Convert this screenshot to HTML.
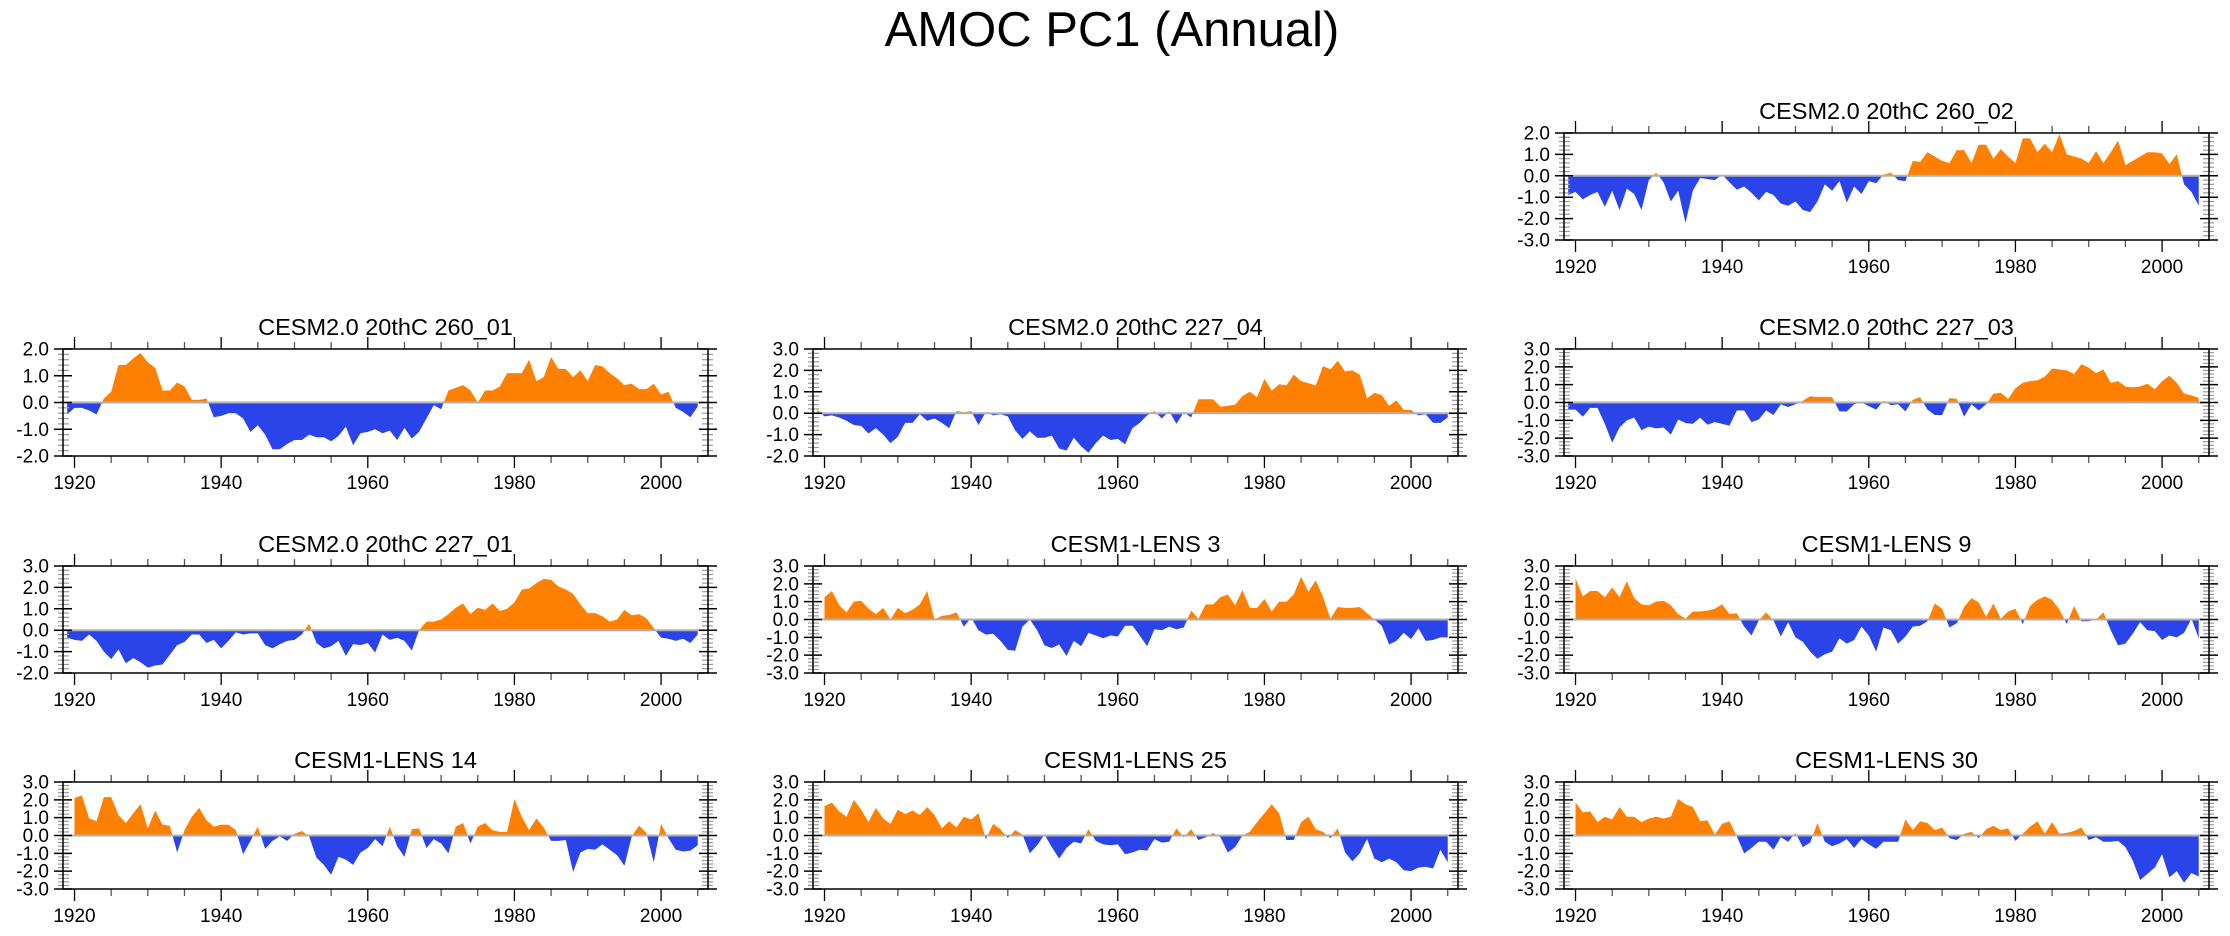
<!DOCTYPE html>
<html><head><meta charset="utf-8"><style>
html,body{margin:0;padding:0;background:#fff;}
svg{display:block;font-family:"Liberation Sans",Arial,sans-serif;}
</style></head><body>
<svg id="chart" width="2230" height="936" viewBox="0 0 2230 936">
<text x="1112" y="46" text-anchor="middle" font-size="49">AMOC PC1 (Annual)</text>
</svg>
<script>
// ---- data ----
const panelTitles = ["CESM2.0 20thC 260_02","CESM2.0 20thC 260_01","CESM2.0 20thC 227_04","CESM2.0 20thC 227_03","CESM2.0 20thC 227_01","CESM1-LENS 3","CESM1-LENS 9","CESM1-LENS 14","CESM1-LENS 25","CESM1-LENS 30"];
const startYears = [1919,1919,1919,1919,1919,1920,1920,1920,1920,1920];
const yMins = [-3,-2,-2,-3,-2,-3,-3,-3,-3,-3];
const yMaxs = [2,2,3,3,3,3,3,3,3,3];
const xTickLabels = [1920,1940,1960,1980,2000];
const s260_02 = [-0.9,
-0.75,-1.1,-0.9,-0.75,-1.45,-0.7,-1.6,-0.6,-0.85,-1.6,
-0.2,0.15,-0.3,-1.2,-0.7,-2.2,-0.7,-0.1,-0.15,-0.2,
0.05,-0.3,-0.65,-0.5,-0.8,-1.15,-0.75,-0.9,-1.3,-1.4,
-1.2,-1.6,-1.7,-1.2,-0.4,-0.7,-0.25,-1.25,-0.5,-0.85,
-0.25,-0.35,0.05,0.15,-0.2,-0.25,0.7,0.65,1.1,0.9,
0.7,0.6,1.2,1.2,0.6,1.45,1.45,0.8,1.25,0.9,
0.6,1.75,1.75,1.1,1.5,1.1,1.95,1.0,0.9,0.8,
0.6,1.15,0.6,1.1,1.65,0.5,0.7,0.9,1.1,1.1,
1.05,0.55,1.0,-0.4,-0.75,-1.4];
const s260_01 = [-0.45,
-0.2,-0.2,-0.3,-0.45,0.15,0.4,1.4,1.4,1.65,1.85,
1.5,1.3,0.45,0.45,0.75,0.6,0.1,0.1,0.15,-0.55,
-0.5,-0.4,-0.4,-0.6,-1.1,-0.85,-1.2,-1.75,-1.75,-1.55,
-1.4,-1.4,-1.2,-1.3,-1.3,-1.45,-1.25,-0.9,-1.6,-1.15,
-1.1,-1.0,-1.15,-1.05,-1.4,-0.95,-1.35,-1.1,-0.6,-0.1,
-0.25,0.45,0.55,0.65,0.45,0.0,0.45,0.45,0.6,1.1,
1.1,1.1,1.6,0.8,0.95,1.7,1.25,1.25,0.95,1.2,
0.8,1.4,1.35,1.1,0.9,0.65,0.7,0.5,0.5,0.7,
0.3,0.4,-0.2,-0.35,-0.55,-0.15];
const s227_04 = [0.15,
-0.15,-0.1,-0.2,-0.35,-0.55,-0.6,-0.95,-0.7,-1.0,-1.4,
-1.1,-0.45,-0.45,-0.05,-0.35,-0.25,-0.45,-0.7,0.1,0.05,
0.1,-0.55,0.05,-0.1,-0.05,-0.15,-0.8,-1.2,-0.85,-1.15,
-1.15,-1.05,-1.65,-1.75,-1.15,-1.55,-1.85,-1.4,-1.05,-1.25,
-1.2,-1.45,-0.7,-0.45,-0.1,0.1,-0.25,0.1,-0.5,0.05,
-0.2,0.65,0.65,0.65,0.3,0.35,0.4,0.8,1.0,0.75,
1.6,1.05,1.35,1.3,1.8,1.5,1.4,1.3,2.2,2.05,
2.45,1.95,2.0,1.8,0.7,0.95,0.85,0.35,0.6,0.15,
0.15,-0.1,-0.05,-0.45,-0.45,-0.2];
const s227_03 = [-0.4,
-0.4,-0.8,-0.3,-0.3,-1.2,-2.25,-1.4,-1.0,-0.85,-1.55,
-1.35,-1.45,-1.4,-1.8,-0.95,-1.15,-1.2,-0.85,-1.25,-1.1,
-1.2,-1.3,-0.45,-0.45,-1.1,-0.95,-0.45,-0.7,-0.1,-0.25,
-0.1,0.1,0.35,0.3,0.3,0.3,-0.5,-0.5,-0.1,0.0,
-0.2,-0.4,0.1,-0.15,-0.1,-0.5,0.15,0.3,-0.4,-0.7,
-0.7,0.25,0.2,-0.8,-0.1,-0.45,-0.1,0.5,0.55,0.2,
0.8,1.1,1.2,1.25,1.45,1.9,1.85,1.8,1.6,2.15,
1.95,1.65,1.85,1.1,1.2,0.9,0.85,0.9,1.05,0.75,
1.2,1.5,1.1,0.5,0.4,0.25];
const s227_01 = [-0.35,
-0.45,-0.5,-0.2,-0.5,-1.0,-1.35,-0.9,-1.55,-1.3,-1.5,
-1.75,-1.65,-1.6,-1.15,-0.7,-0.55,-0.2,-0.2,-0.6,-0.45,
-0.85,-0.5,-0.1,-0.2,-0.15,-0.15,-0.7,-0.85,-0.65,-0.5,
-0.45,-0.2,0.3,-0.6,-0.85,-0.75,-0.5,-1.2,-0.65,-0.7,
-0.6,-1.05,-0.2,-0.45,-0.35,-0.5,-0.95,0.0,0.4,0.4,
0.5,0.75,1.05,1.25,0.75,1.05,0.95,1.25,0.9,1.0,
1.3,1.9,1.95,2.2,2.4,2.35,2.05,1.9,1.7,1.2,
0.8,0.8,0.65,0.4,0.5,0.95,0.7,0.75,0.55,0.1,
-0.35,-0.4,-0.5,-0.4,-0.6,-0.2];
const lens3 = [1.25,1.6,0.8,0.4,1.0,1.05,0.6,0.3,0.65,0.0,
0.65,0.35,0.55,0.85,1.6,0.0,0.2,0.25,0.4,-0.4,
0.1,-0.6,-0.85,-0.8,-1.2,-1.7,-1.75,-0.4,0.0,-0.6,
-1.45,-1.6,-1.4,-2.05,-1.2,-1.5,-0.75,-0.9,-1.05,-0.9,
-0.95,-0.35,-0.35,-0.9,-1.5,-0.55,-0.6,-0.4,-0.55,-0.45,
0.5,0.05,0.85,0.85,1.25,1.4,0.8,1.65,0.65,0.65,
1.15,0.45,1.0,1.0,1.4,2.4,1.55,2.2,1.25,0.05,
0.7,0.65,0.65,0.7,0.35,0.0,-0.35,-1.4,-1.2,-0.75,
-1.1,-0.5,-1.2,-1.15,-1.0,-1.0];
const lens9 = [2.3,1.3,1.6,1.6,1.25,1.8,1.25,2.15,1.2,0.85,
0.8,1.0,1.05,0.8,0.3,0.05,0.45,0.45,0.5,0.6,
0.85,0.3,0.35,-0.4,-0.9,-0.05,0.4,-0.05,-0.95,-0.15,
-1.0,-1.25,-1.8,-2.2,-1.95,-1.8,-1.05,-1.35,-1.15,-0.4,
-0.9,-1.8,-0.45,-0.6,-1.35,-0.95,-0.4,-0.35,-0.1,0.9,
0.6,-0.45,-0.2,0.7,1.2,0.95,0.15,0.9,0.05,0.45,
0.6,-0.25,0.75,1.1,1.3,1.1,0.55,-0.25,0.75,-0.1,
-0.1,0.0,0.4,-0.6,-1.45,-1.35,-0.8,-0.15,-0.6,-0.65,
-1.15,-0.9,-1.0,-0.75,0.05,-1.05];
const lens14 = [2.1,2.25,0.95,0.8,2.15,2.15,1.15,0.7,1.25,1.75,
0.4,1.4,0.6,0.55,-0.95,0.3,1.05,1.55,0.85,0.5,
0.6,0.6,0.3,-1.05,-0.3,0.5,-0.75,-0.3,-0.05,-0.3,
0.1,0.25,-0.05,-1.25,-1.65,-2.2,-1.2,-1.35,-1.65,-0.95,
-0.7,-0.2,-0.6,0.5,-0.6,-1.2,0.35,0.4,-0.7,-0.2,
-0.45,-1.0,0.5,0.7,-0.45,0.5,0.7,0.3,0.2,0.2,
2.05,1.05,0.3,0.95,0.45,-0.3,-0.3,-0.25,-2.05,-0.95,
-0.75,-0.8,-0.5,-0.8,-1.1,-1.7,-0.05,0.55,0.15,-1.5,
0.65,-0.15,-0.8,-0.9,-0.85,-0.55];
const lens25 = [1.65,1.85,1.35,1.05,2.0,1.45,0.75,1.55,0.95,0.65,
1.45,1.2,1.4,1.15,1.6,1.15,0.4,0.8,0.45,1.05,
0.9,1.25,-0.2,0.65,0.35,-0.15,0.3,0.05,-1.0,-0.55,
0.05,-0.65,-1.3,-0.7,-0.35,-0.45,0.35,-0.3,-0.5,-0.55,
-0.5,-1.05,-0.95,-0.8,-0.85,-0.2,-0.4,-0.35,0.4,-0.1,
0.35,-0.25,-0.1,0.15,-0.1,-0.95,-0.65,0.0,0.2,0.75,
1.25,1.75,1.25,-0.25,-0.25,0.75,1.05,0.35,0.2,-0.15,
0.4,-0.95,-1.45,-1.0,-0.2,-1.3,-1.5,-1.3,-1.5,-1.95,
-2.0,-1.8,-1.75,-1.85,-0.8,-1.5];
const lens30 = [1.85,1.3,1.35,0.75,1.05,0.9,1.6,1.05,1.05,0.75,
0.95,1.05,0.95,1.05,2.05,1.75,1.6,0.8,0.85,0.05,
0.65,0.8,-0.05,-1.0,-0.7,-0.35,-0.35,-0.8,-0.1,-0.35,
0.15,-0.65,-0.4,0.7,-0.35,-0.6,-0.45,-0.2,-0.7,-0.2,
-0.5,-0.75,-0.35,-0.35,-0.35,0.9,0.3,0.8,0.7,0.3,
0.45,-0.15,-0.25,0.1,0.2,-0.15,0.35,0.55,0.3,0.4,
-0.3,0.1,0.5,0.8,0.1,0.75,0.1,0.15,0.25,0.45,
-0.25,-0.1,-0.35,-0.35,-0.3,-0.65,-1.4,-2.5,-2.15,-1.8,
-1.05,-2.35,-2.0,-2.65,-2.1,-2.3];
const seriesList = [s260_02,s260_01,s227_04,s227_03,s227_01,lens3,lens9,lens14,lens25,lens30];

// ---- layout ----
const colX = [63, 813, 1564];
const rowY = [133, 349, 566, 782];
const panelPos = [[2,0],[0,1],[1,1],[2,1],[0,2],[1,2],[2,2],[0,3],[1,3],[2,3]];
const W = 645, H = 107, X0 = 1918.43, X1 = 2006.4;
const NS = "http://www.w3.org/2000/svg";
const svg = document.getElementById('chart');
function mk(tag, attrs, parent){
  const e = document.createElementNS(NS, tag);
  for (const k in attrs) e.setAttribute(k, attrs[k]);
  (parent||svg).appendChild(e);
  return e;
}
const ORANGE = "#ff8000", BLUE = "#2a44ea";

panelTitles.forEach((title, p) => {
  const [c, r] = panelPos[p];
  const L = colX[c], T = rowY[r];
  const ymin = yMins[p], ymax = yMaxs[p];
  const xs = yr => L + (yr - X0) / (X1 - X0) * W;
  const ys = v => T + (ymax - v) / (ymax - ymin) * H;
  const g = mk('g', {});
  
  

  const t = mk('text', {x: L + W/2, y: T - 14, 'text-anchor':'middle', 'font-size':23.5}, g);
  t.textContent = title;
  
  

  const data = seriesList[p], y0 = startYears[p];
  const z = ys(0);
  let pts = `${xs(y0).toFixed(2)},${z.toFixed(2)} `;
  data.forEach((v,i) => { pts += `${xs(y0+i).toFixed(2)},${ys(v).toFixed(2)} `; });
  pts += `${xs(y0+data.length-1).toFixed(2)},${z.toFixed(2)}`;
  const cid = 'c' + p;
  const defs = mk('defs', {}, g);
  const cpA = mk('clipPath', {id: cid+'a'}, defs);
  mk('rect', {x:L, y:T, width:W, height:z-T}, cpA);
  const cpB = mk('clipPath', {id: cid+'b'}, defs);
  mk('rect', {x:L, y:z, width:W, height:T+H-z}, cpB);
  const pa = mk('polygon', {points: pts, fill: ORANGE, 'clip-path': `url(#${cid}a)`}, g);
  
  
  const pb = mk('polygon', {points: pts, fill: BLUE, 'clip-path': `url(#${cid}b)`}, g);
  
  
  const zl = mk('line', {x1:L, x2:L+W, y1:z, y2:z, stroke:'#b0b0b0', 'stroke-width':2}, g);
  
  

  for (let v = ymin; v <= ymax + 1e-9; v += 1) {
    const y = ys(v);
    mk('line', {x1:L-9, x2:L+9, y1:y, y2:y, stroke:'#000', 'stroke-width':1.5}, g);
    mk('line', {x1:L+W-9, x2:L+W+9, y1:y, y2:y, stroke:'#000', 'stroke-width':1.5}, g);
    const lb = mk('text', {x:L-14, y:y+6.5, 'text-anchor':'end', 'font-size':19}, g);
    lb.textContent = v.toFixed(1);
    
    
    if (v < ymax) for (let k = 1; k < 5; k++) {
      const ym = ys(v + k*0.2);
      mk('line', {x1:L, x2:L+6, y1:ym, y2:ym, stroke:'#999', 'stroke-width':1.2}, g);
      mk('line', {x1:L+W-6, x2:L+W, y1:ym, y2:ym, stroke:'#999', 'stroke-width':1.2}, g);
      mk('line', {x1:L-5, x2:L, y1:ym, y2:ym, stroke:'#999', 'stroke-width':1.2}, g);
      mk('line', {x1:L+W, x2:L+W+5, y1:ym, y2:ym, stroke:'#999', 'stroke-width':1.2}, g);
    }
  }
  for (let yr = 1920; yr <= 2005; yr += 5) {
    const x = xs(yr), major = (yr % 20 === 0);
    const len = major ? 12 : 7;
    mk('line', {x1:x, x2:x, y1:T, y2:T-len, stroke: major?'#000':'#555', 'stroke-width':1.3}, g);
    mk('line', {x1:x, x2:x, y1:T+H, y2:T+H+len, stroke: major?'#000':'#555', 'stroke-width':1.3}, g);
  }
  xTickLabels.forEach(yr => {
    const lb = mk('text', {x: xs(yr), y: T+H+33, 'text-anchor':'middle', 'font-size':19}, g);
    lb.textContent = yr;
    
    
  });
  const fr = mk('rect', {x:L, y:T, width:W, height:H, fill:'none', stroke:'#000', 'stroke-width':1.5}, g);
  
  
});
</script>
</body></html>
